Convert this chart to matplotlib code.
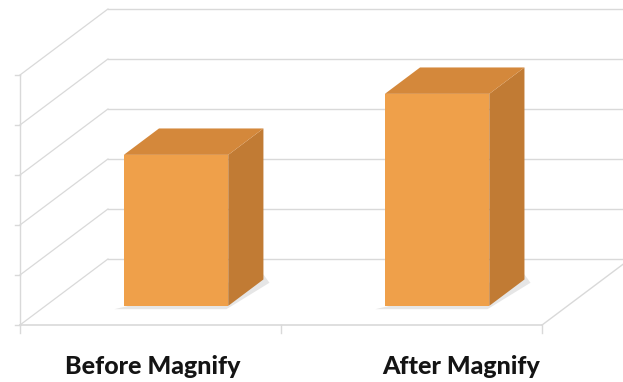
import numpy as np
import matplotlib
matplotlib.use("Agg")
import matplotlib.pyplot as plt
from matplotlib.patches import Polygon

# chart data
categories = ["Before Magnify", "After Magnify"]
values = [3.02, 4.24]
grid_levels = [0, 1, 2, 3, 4, 5]

# oblique "3d" look: a point (x, y, depth) is shifted right/up with depth
DX, DY = 0.337, 1.32

def proj(x, y, d):
    return x + DX * d, y + DY * d

grid_col = "#d9d9d9"
front_col = "#efa04a"
top_col = "#d4883b"
side_col = "#c17b34"

fig = plt.figure(figsize=(6.23, 3.82), dpi=100)
ax = fig.add_axes([0, 0, 1, 1])
ax.set_xlim(-0.0766, 2.310)
ax.set_ylim(-1.14, 6.5)
ax.axis("off")

ncat = len(categories)

# back wall lines and left wall diagonals
for lv in grid_levels:
    x0, y0 = proj(0, lv, 1)
    x1, y1 = proj(ncat, lv, 1)
    ax.plot([x0, x1], [y0, y1], color=grid_col, lw=1.0, zorder=1)
    xa, ya = proj(0, lv, 0)
    ax.plot([xa, x0], [ya, y0], color=grid_col, lw=0.9, zorder=1)
    # left tick
    ax.plot([xa - 0.02, xa], [ya, ya], color=grid_col, lw=1.0, zorder=1)

# front vertical axis
ax.plot([0, 0], [0, grid_levels[-1]], color=grid_col, lw=1.0, zorder=1)
# floor front edge and right edge
ax.plot([0, ncat], [0, 0], color=grid_col, lw=1.2, zorder=1)
xr, yr = proj(ncat, 0, 1)
ax.plot([ncat, xr], [0, yr], color=grid_col, lw=1.0, zorder=1)
# category ticks
for i in range(ncat + 1):
    ax.plot([i, i], [0, -0.16], color=grid_col, lw=1.0, zorder=1)

# bars
w = 0.4
d0, d1 = 0.29, 0.69
for i, v in enumerate(values):
    xl = i + 0.5 - w / 2
    xh = i + 0.5 + w / 2
    front = [proj(xl, 0, d0), proj(xh, 0, d0), proj(xh, v, d0), proj(xl, v, d0)]
    top = [proj(xl, v, d0), proj(xh, v, d0), proj(xh, v, d1), proj(xl, v, d1)]
    side = [proj(xh, 0, d0), proj(xh, 0, d1), proj(xh, v, d1), proj(xh, v, d0)]
    shadow = [proj(xl - 0.03, -0.04, d0 - 0.02), proj(xh, -0.04, d0 - 0.02),
              proj(xh + 0.04, 0, d1 - 0.05), proj(xh, 0.1, d1)]
    ax.add_patch(Polygon(shadow, closed=True, fc="#e6e6e6", ec="none", zorder=2))
    ax.add_patch(Polygon(side, closed=True, fc=side_col, ec="none", zorder=3))
    ax.add_patch(Polygon(top, closed=True, fc=top_col, ec="none", zorder=3))
    ax.add_patch(Polygon(front, closed=True, fc=front_col, ec="none", zorder=4))

# category labels
label_x = [0.51, 1.69]
for lx, name in zip(label_x, categories):
    ax.text(lx, -0.82, name, ha="center", va="center", fontsize=18,
            fontweight="black", family="Lato", color="#141414")

fig.savefig("out.png", dpi=100)
